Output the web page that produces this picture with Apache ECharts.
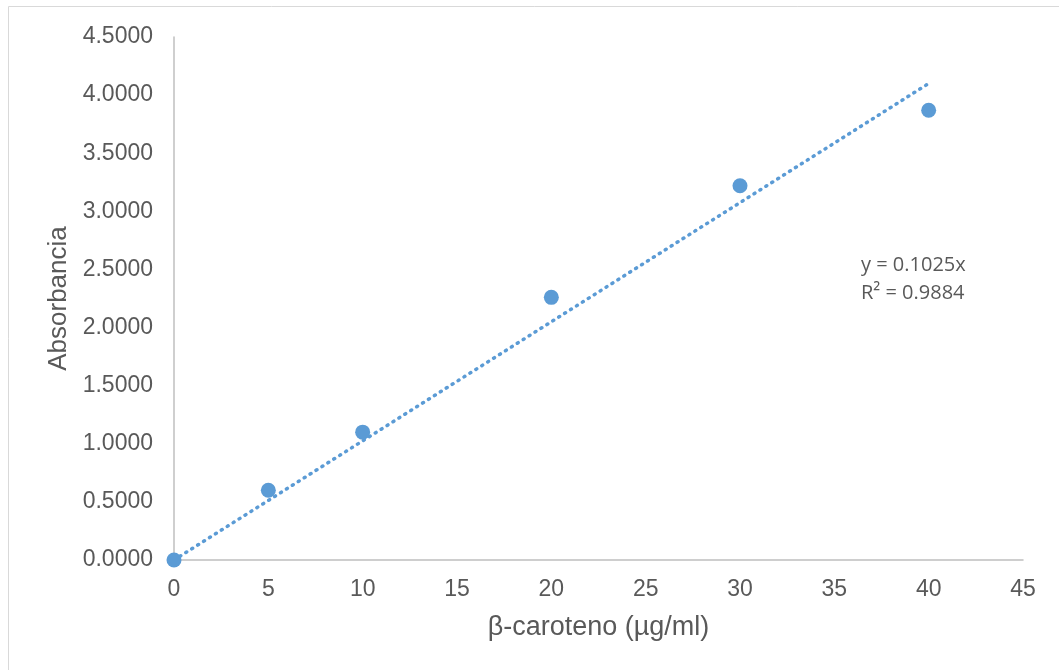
<!DOCTYPE html>
<html>
<head>
<meta charset="utf-8">
<script src="https://cdn.jsdelivr.net/npm/echarts@6/dist/echarts.min.js"></script>
<style>html,body{margin:0;padding:0;background:#fff}#c{width:1059px;height:670px}</style>
</head>
<body>
<div id="c"></div>
<script>
const concentrations = [0, 5, 10, 20, 30, 40];
const absorbance = [0.0, 0.60, 1.10, 2.26, 3.22, 3.87];
const slope = 0.1025;
const trendX = [0, 40];
const equationText = 'y = 0.1025x';
const r2Text = 'R² = 0.9884';
const xTitle = 'β-caroteno (µg/ml)';
const yTitle = 'Absorbancia';

const chart = echarts.init(document.getElementById('c'));
const pts = concentrations.map((x, i) => [x, absorbance[i]]);
const trend = trendX.map(x => [x, slope * x]);
const tickColor = '#595959';
chart.setOption({
  animation: false,
  graphic: [{
    type: 'rect', shape: {x: 8.5, y: 6.5, width: 1100, height: 700},
    style: {fill: 'none', stroke: '#D9D9D9', lineWidth: 1}, z: -10, silent: true
  }, {
    type: 'text', left: 861, top: 251,
    style: {text: equationText + '\n' + r2Text, font: '20px "Open Sans", sans-serif', fill: tickColor, lineHeight: 28}
  }],
  grid: {left: 174, right: 36, top: 37, bottom: 110, containLabel: false},
  xAxis: {
    type: 'value', min: 0, max: 45, interval: 5,
    name: xTitle, nameLocation: 'middle', nameGap: 54,
    nameTextStyle: {fontSize: 27, color: tickColor, fontFamily: 'Liberation Sans'},
    axisLine: {show: true, lineStyle: {color: '#BFBFBF', width: 1.5}},
    axisTick: {show: false},
    splitLine: {show: false},
    axisLabel: {fontSize: 23, color: tickColor, fontFamily: 'Liberation Sans', margin: 18}
  },
  yAxis: {
    type: 'value', min: 0, max: 4.5, interval: 0.5,
    name: yTitle, nameLocation: 'middle', nameGap: 101,
    nameTextStyle: {fontSize: 26, color: tickColor, fontFamily: 'Liberation Sans'},
    axisLine: {show: true, lineStyle: {color: '#BFBFBF', width: 1.5}},
    axisTick: {show: false},
    splitLine: {show: false},
    axisLabel: {fontSize: 23, color: tickColor, fontFamily: 'Liberation Sans', margin: 21,
      formatter: v => v.toFixed(4)}
  },
  series: [{
    type: 'line', data: trend, symbol: 'none',
    lineStyle: {color: '#5B9BD5', width: 3.5, type: [1, 6], cap: 'round'}, z: 1
  }, {
    type: 'scatter', data: pts, symbolSize: 15,
    itemStyle: {color: '#5B9BD5', opacity: 1}, z: 2
  }]
});
</script>
</body>
</html>
